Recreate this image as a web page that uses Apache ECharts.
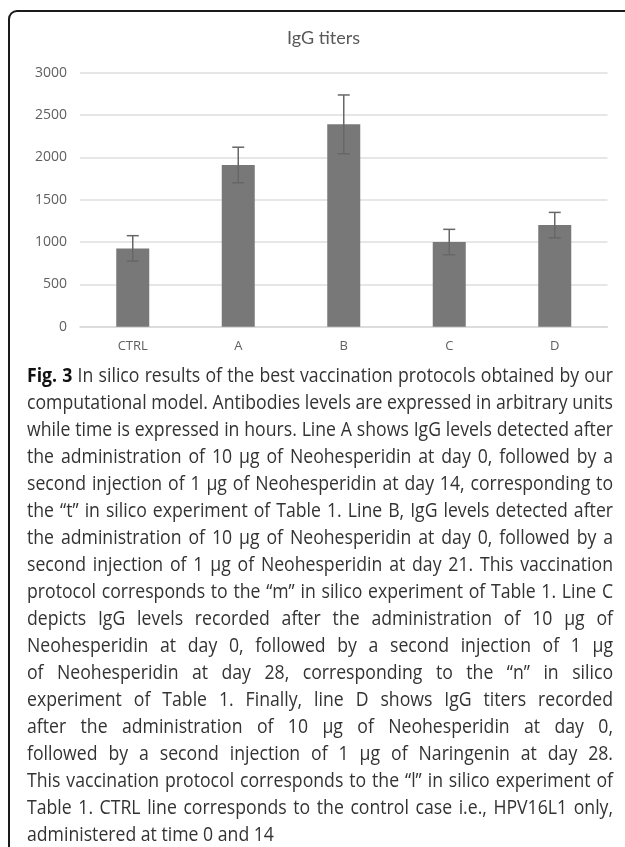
<!DOCTYPE html>
<html>
<head>
<meta charset="utf-8">
<title>IgG titers</title>
<script src="https://cdn.jsdelivr.net/npm/echarts@6/dist/echarts.min.js"></script>
<style>
    html, body { margin: 0; padding: 0; background: #fff; }
    #chart { width: 625px; height: 847px; }
</style>
</head>
<body>
<div id="chart"></div>
<script>
// ── 数据 ──
var categories = ['CTRL', 'A', 'B', 'C', 'D'];
var titers = [925, 1910, 2390, 1000, 1200];
var titerErrors = [150, 210, 347, 150, 150];
var yMin = 0;
var yMax = 3000;
var yStep = 500;

var captionLines = [
    'Fig. 3 In silico results of the best vaccination protocols obtained by our',
    'computational model. Antibodies levels are expressed in arbitrary units',
    'while time is expressed in hours. Line A shows IgG levels detected after',
    'the administration of 10 \u00b5g of Neohesperidin at day 0, followed by a',
    'second injection of 1 \u00b5g of Neohesperidin at day 14, corresponding to',
    'the \u201ct\u201d in silico experiment of Table 1. Line B, IgG levels detected after',
    'the administration of 10 \u00b5g of Neohesperidin at day 0, followed by a',
    'second injection of 1 \u00b5g of Neohesperidin at day 21. This vaccination',
    'protocol corresponds to the \u201cm\u201d in silico experiment of Table 1. Line C',
    'depicts IgG levels recorded after the administration of 10 \u00b5g of',
    'Neohesperidin at day 0, followed by a second injection of 1 \u00b5g',
    'of Neohesperidin at day 28, corresponding to the \u201cn\u201d in silico',
    'experiment of Table 1. Finally, line D shows IgG titers recorded',
    'after the administration of 10 \u00b5g of Neohesperidin at day 0,',
    'followed by a second injection of 1 \u00b5g of Naringenin at day 28.',
    'This vaccination protocol corresponds to the \u201cl\u201d in silico experiment of',
    'Table 1. CTRL line corresponds to the control case i.e., HPV16L1 only,',
    'administered at time 0 and 14'
];

// ── 图注排版（两端对齐，逐词放置，字体横向压缩） ──
var CAP_FAMILY = '"Open Sans", sans-serif';
var CAP_SIZE = 20;
var CAP_LEFT = 27;
var CAP_RIGHT = 613;
var CAP_TOP = 376;
var CAP_LINE_H = 27;

function captionGraphics() {
    var ctx = document.createElement('canvas').getContext('2d');
    var avail = CAP_RIGHT - CAP_LEFT;
    ctx.font = CAP_SIZE + 'px ' + CAP_FAMILY;
    var space = ctx.measureText(' ').width;

    var lines = captionLines.map(function (line, li) {
        var words = line.split(' ');
        var bold = words.map(function (w, wi) { return li === 0 && wi < 2; });
        var widths = words.map(function (w, wi) {
            ctx.font = (bold[wi] ? 'bold ' : '') + CAP_SIZE + 'px ' + CAP_FAMILY;
            return ctx.measureText(w).width;
        });
        var total = widths.reduce(function (a, b) { return a + b; }, 0);
        return { words: words, bold: bold, widths: widths, total: total };
    });

    // 最紧的一行决定统一的横向缩放
    var sx = 1;
    lines.forEach(function (l) {
        var natural = l.total + space * (l.words.length - 1);
        sx = Math.min(sx, avail / natural);
    });

    var out = [];
    lines.forEach(function (l, li) {
        var isLast = li === lines.length - 1;
        var gap = isLast ? space * sx : (avail - l.total * sx) / (l.words.length - 1);
        var x = CAP_LEFT;
        var y = CAP_TOP + li * CAP_LINE_H;
        l.words.forEach(function (w, wi) {
            out.push({
                type: 'text',
                x: x,
                y: y,
                scaleX: sx,
                silent: true,
                style: {
                    text: w,
                    fontFamily: CAP_FAMILY,
                    fontSize: CAP_SIZE,
                    fontWeight: l.bold[wi] ? 'bold' : 'normal',
                    fill: l.bold[wi] ? '#111' : '#333',
                    verticalAlign: 'middle'
                }
            });
            x += l.widths[wi] * sx + gap;
        });
    });
    return out;
}

var chart = echarts.init(document.getElementById('chart'));

var errData = categories.map(function (c, i) {
    return [i, titers[i] - titerErrors[i], titers[i] + titerErrors[i]];
});

function renderErrorBar(params, api) {
    var x = api.coord([api.value(0), 0])[0];
    var lo = api.coord([api.value(0), api.value(1)])[1];
    var hi = api.coord([api.value(0), api.value(2)])[1];
    var half = 6;
    var st = { stroke: '#676767', lineWidth: 1.5 };
    return {
        type: 'group',
        children: [
            { type: 'line', shape: { x1: x, y1: lo, x2: x, y2: hi }, style: st },
            { type: 'line', shape: { x1: x - half, y1: hi, x2: x + half, y2: hi }, style: st },
            { type: 'line', shape: { x1: x - half, y1: lo, x2: x + half, y2: lo }, style: st }
        ]
    };
}

chart.setOption({
    animation: false,
    backgroundColor: '#fff',
    title: {
        text: 'IgG titers',
        left: 282,
        top: 24,
        textStyle: { fontFamily: 'Lato', fontSize: 18, fontWeight: 'normal', color: '#595959' }
    },
    grid: { left: 80, right: 17.5, top: 72.7, bottom: 520.3, containLabel: false },
    xAxis: {
        type: 'category',
        data: categories,
        axisLine: { lineStyle: { color: '#d9d9d9', width: 1.5 } },
        axisTick: { show: false },
        axisLabel: { color: '#606060', fontFamily: 'Open Sans', fontSize: 13, margin: 13 }
    },
    yAxis: {
        type: 'value',
        min: yMin,
        max: yMax,
        interval: yStep,
        axisLine: { show: false },
        axisTick: { show: false },
        axisLabel: {
            color: '#606060',
            fontFamily: 'Open Sans',
            fontSize: 14,
            margin: 13,
            formatter: function (v) { return String(v); }
        },
        splitLine: { lineStyle: { color: '#dedede', width: 1.5 } }
    },
    series: [
        {
            type: 'bar',
            data: titers,
            barWidth: 33,
            itemStyle: { color: '#787878' },
            z: 2
        },
        {
            type: 'custom',
            data: errData,
            renderItem: renderErrorBar,
            z: 3
        }
    ],
    graphic: [
        {
            type: 'rect',
            silent: true,
            shape: { x: 9, y: 11, width: 700, height: 900, r: [8, 0, 0, 0] },
            style: { fill: 'none', stroke: '#1a1a1a', lineWidth: 2 }
        }
    ].concat(captionGraphics())
});

window.addEventListener('resize', function () { chart.resize(); });
</script>
</body>
</html>
